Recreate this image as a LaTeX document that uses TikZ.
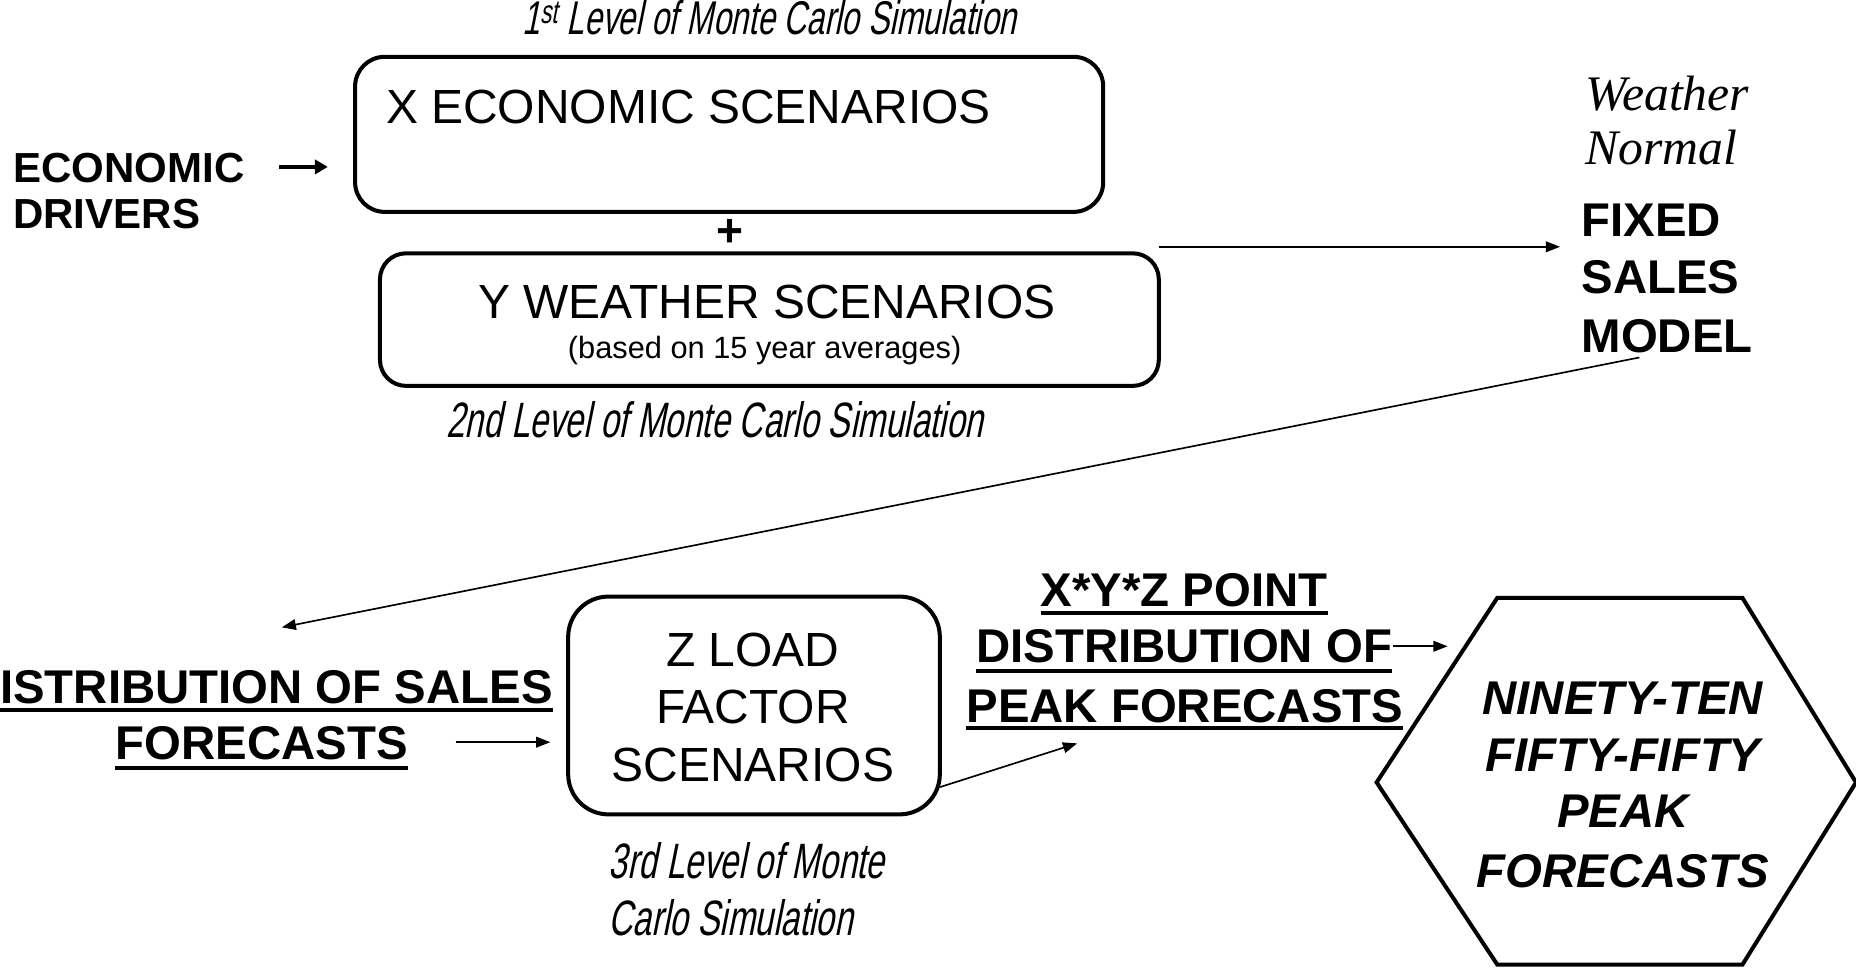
\documentclass[tikz,border=0pt]{standalone}
\usepackage{fontspec}
\setmainfont{Liberation Sans}
\newfontfamily\agency[FakeStretch=0.67,FakeSlant=0.2]{Liberation Sans}
\newfontfamily\serifit{Liberation Serif}
\usetikzlibrary{arrows.meta}
\tikzset{
  box/.style={draw, line width=3.4pt, rounded corners=#1, inner sep=0pt},
  reg/.style={inner sep=0pt, font=\fontsize{40.5}{47}\selectfont},
  small/.style={inner sep=0pt, font=\fontsize{26}{30}\selectfont},
  bld/.style={inner sep=0pt, font=\fontsize{40}{48}\selectfont\bfseries},
  bldsm/.style={inner sep=0pt, font=\fontsize{35.5}{40}\selectfont\bfseries},
  bldit/.style={inner sep=0pt, font=\fontsize{40}{48}\selectfont\bfseries\itshape},
  agy/.style={inner sep=0pt, font=\fontsize{#1}{#1}\agency},
  wthr/.style={inner sep=0pt, font=\fontsize{42}{46}\serifit\itshape},
  arr/.style={line width=1.4pt, -{Triangle[length=12pt,width=9pt]}},
  thickarr/.style={line width=3.4pt, -{Triangle[length=11pt,width=12pt]}},
  uline/.style={line width=3.4pt},
  hexline/.style={line width=3.4pt, line join=miter},
}
\begin{document}
\begin{tikzpicture}[x=1pt,y=-1pt]
\fill[white] (0,0) rectangle (1568,819);
\useasboundingbox (0,0) rectangle (1568,819);

% top: economic scenarios
\node[agy=40, anchor=base] (lvl1) at (650,29) {1\textsuperscript{st} Level of Monte Carlo Simulation};
\node[box=25pt, minimum width=632pt, minimum height=131pt] (xbox) at (616,113.5) {};
\node[reg, anchor=base west] (xtext) at (326,104) {X ECONOMIC SCENARIOS};
\node[bldsm, anchor=base west] (econ1) at (11,154) {ECONOMIC};
\node[bldsm, anchor=base west] (econ2) at (11,193) {DRIVERS};
\coordinate (ea) at (236,141);
\coordinate (eb) at (277,141);
\draw[thickarr] (ea) -- (eb);

\node[inner sep=0pt, font=\fontsize{39}{47}\selectfont\bfseries] (plus) at (617,197) {+};

% weather scenarios
\node[box=22pt, minimum width=658pt, minimum height=112pt] (ybox) at (650,270) {};
\node[reg, anchor=base] (ytext) at (648,269) {Y WEATHER SCENARIOS};
\node[small, anchor=base] (ysub) at (646,302.5) {(based on 15 year averages)};
\node[agy=42, anchor=base] (lvl2) at (604,370) {2nd Level of Monte Carlo Simulation};

% to fixed sales model
\coordinate (ya) at (979,208.5);
\coordinate (yb) at (1318,208.5);
\draw[arr] (ya) -- (yb);
\node[wthr, anchor=base west] (wn1) at (1339,93) {Weather};
\node[wthr, anchor=base west] (wn2) at (1339,139) {Normal};
\node[bld, anchor=base west] (fx1) at (1336,200) {FIXED};
\node[bld, anchor=base west] (fx2) at (1336,248) {SALES};
\node[bld, anchor=base west] (fx3) at (1336,298) {MODEL};

% long arrow back
\coordinate (la) at (1385,302);
\coordinate (lb) at (238,530);
\draw[arr] (la) -- (lb);

% distribution of sales forecasts
\node[bld, anchor=base west] (ds1) at (0,594) {ISTRIBUTION OF SALES};
\draw[uline] ([yshift=-6pt]ds1.base west) -- ([yshift=-6pt]ds1.base east);
\node[bld, anchor=base] (ds2) at (221,642) {FORECASTS};
\draw[uline] ([yshift=-7pt]ds2.base west) -- ([yshift=-7pt]ds2.base east);
\coordinate (fa) at (385,627);
\coordinate (fb) at (465,627);
\draw[arr] (fa) -- (fb);

% Z box
\node[box=34pt, minimum width=314pt, minimum height=184pt] (zbox) at (637,596) {};
\node[reg, anchor=base] (z1) at (636,563) {Z LOAD};
\node[reg, anchor=base] (z2) at (636,611) {FACTOR};
\node[reg, anchor=base] (z3) at (636,660) {SCENARIOS};
\node[agy=42, anchor=base west] (lvl3a) at (514,742) {3rd Level of Monte};
\node[agy=42, anchor=base west] (lvl3b) at (514,790) {Carlo Simulation};
\coordinate (za) at (794,665);
\coordinate (zb) at (910,628);
\draw[arr] (za) -- (zb);

% X*Y*Z point distribution
\node[bld, anchor=base] (p1) at (1000.5,512) {X*Y*Z POINT};
\draw[uline] ([yshift=-6pt]p1.base west) -- ([yshift=-6pt]p1.base east);
\node[bld, anchor=base] (p2) at (1000.5,560) {DISTRIBUTION OF};
\draw[uline] ([yshift=-7pt]p2.base west) -- ([yshift=-7pt]p2.base east);
\node[bld, anchor=base] (p3) at (1001,610) {PEAK FORECASTS};
\draw[uline] ([yshift=-5pt]p3.base west) -- ([yshift=-5pt]p3.base east);
\coordinate (pa) at (1177,546);
\coordinate (pb) at (1223,546);
\draw[arr] (pa) -- (pb);

% hexagon
\draw[hexline] (1163,661) -- (1265,505) -- (1472,505) -- (1568,661) -- (1472,815) -- (1265,815) -- cycle;
\node[bldit, anchor=base] (h1) at (1371,604) {NINETY-TEN};
\node[bldit, anchor=base] (h2) at (1371,652) {FIFTY-FIFTY};
\node[bldit, anchor=base] (h3) at (1371,699) {PEAK};
\node[bldit, anchor=base] (h4) at (1371,750) {FORECASTS};
\end{tikzpicture}
\end{document}
